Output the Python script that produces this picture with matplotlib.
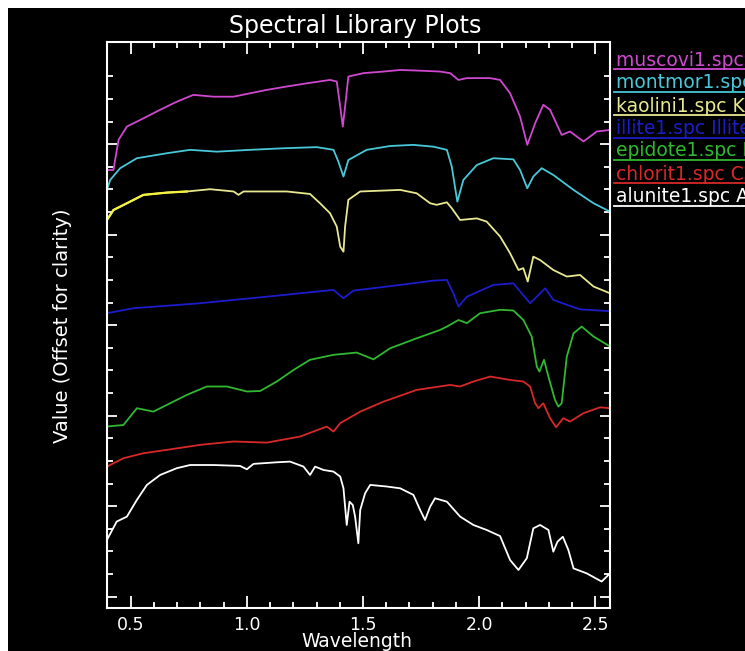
import matplotlib
matplotlib.use("Agg")
import matplotlib.pyplot as plt
from matplotlib.patches import Rectangle
from matplotlib.lines import Line2D
from matplotlib.ticker import FixedLocator, MultipleLocator

# Spectra (wavelength in um, value already offset)
musc_wl = [0.398, 0.426, 0.448, 0.484, 0.541, 0.627, 0.699, 0.770, 0.857, 0.943, 1.014, 1.086,
           1.172, 1.258, 1.358, 1.387, 1.402, 1.413, 1.423, 1.437, 1.502, 1.588, 1.660, 1.746,
           1.832, 1.875, 1.911, 1.947, 2.047, 2.090, 2.133, 2.176, 2.207, 2.241, 2.276, 2.305,
           2.355, 2.391, 2.449, 2.506, 2.563]
musc_val = [1.936, 1.936, 2.069, 2.128, 2.157, 2.202, 2.238, 2.268, 2.260, 2.260, 2.275, 2.290,
            2.305, 2.319, 2.334, 2.327, 2.216, 2.128, 2.216, 2.349, 2.364, 2.371, 2.378, 2.375,
            2.371, 2.364, 2.334, 2.342, 2.342, 2.334, 2.275, 2.172, 2.047, 2.143, 2.224, 2.202,
            2.091, 2.106, 2.062, 2.106, 2.113]

mont_wl = [0.398, 0.412, 0.455, 0.527, 0.656, 0.756, 0.871, 1.014, 1.158, 1.301, 1.373, 1.394,
           1.416, 1.437, 1.516, 1.617, 1.717, 1.803, 1.861, 1.882, 1.906, 1.932, 1.990, 2.061,
           2.147, 2.176, 2.207, 2.233, 2.269, 2.319, 2.406, 2.492, 2.563]
mont_val = [1.848, 1.892, 1.944, 1.988, 2.010, 2.025, 2.017, 2.025, 2.032, 2.037, 2.025, 1.973,
            1.907, 1.980, 2.025, 2.042, 2.047, 2.039, 2.025, 1.951, 1.796, 1.892, 1.958, 1.988,
            1.983, 1.936, 1.855, 1.907, 1.944, 1.914, 1.848, 1.789, 1.752]

kaol_wl = [0.398, 0.426, 0.484, 0.555, 0.656, 0.742, 0.842, 0.943, 0.964, 0.986, 1.086, 1.172,
           1.272, 1.315, 1.358, 1.387, 1.402, 1.416, 1.423, 1.437, 1.488, 1.588, 1.660, 1.731,
           1.789, 1.817, 1.861, 1.882, 1.918, 1.990, 2.032, 2.090, 2.133, 2.169, 2.190, 2.209,
           2.233, 2.262, 2.319, 2.377, 2.434, 2.492, 2.563]
kaol_val = [1.715, 1.759, 1.789, 1.826, 1.836, 1.841, 1.851, 1.841, 1.826, 1.841, 1.841, 1.841,
            1.830, 1.789, 1.745, 1.686, 1.597, 1.575, 1.686, 1.804, 1.841, 1.845, 1.848, 1.833,
            1.789, 1.782, 1.793, 1.767, 1.715, 1.722, 1.708, 1.642, 1.568, 1.494, 1.502, 1.443,
            1.553, 1.538, 1.494, 1.465, 1.472, 1.421, 1.391]

illi_wl = [0.398, 0.512, 0.799, 1.086, 1.373, 1.416, 1.459, 1.660, 1.803, 1.861, 1.889, 1.911,
           1.947, 2.061, 2.147, 2.183, 2.219, 2.248, 2.284, 2.319, 2.377, 2.434, 2.563]
illi_val = [1.303, 1.325, 1.347, 1.376, 1.406, 1.369, 1.403, 1.428, 1.447, 1.450, 1.391, 1.332,
            1.376, 1.428, 1.435, 1.391, 1.347, 1.376, 1.413, 1.362, 1.340, 1.320, 1.312]

epid_wl = [0.398, 0.469, 0.527, 0.598, 0.670, 0.742, 0.828, 0.914, 1.000, 1.057, 1.129, 1.201,
           1.272, 1.373, 1.473, 1.545, 1.617, 1.731, 1.832, 1.861, 1.911, 1.947, 2.004, 2.090,
           2.147, 2.190, 2.226, 2.248, 2.259, 2.279, 2.298, 2.326, 2.341, 2.355, 2.377, 2.406,
           2.441, 2.492, 2.563]
epid_val = [0.802, 0.809, 0.883, 0.868, 0.905, 0.942, 0.979, 0.979, 0.957, 0.959, 1.001, 1.052,
            1.097, 1.119, 1.129, 1.099, 1.148, 1.192, 1.229, 1.244, 1.273, 1.259, 1.303, 1.318,
            1.315, 1.273, 1.200, 1.067, 1.045, 1.097, 1.023, 0.920, 0.890, 0.905, 1.111, 1.214,
            1.244, 1.200, 1.156]

chlo_wl = [0.398, 0.469, 0.555, 0.656, 0.799, 0.943, 1.086, 1.230, 1.344, 1.373, 1.402, 1.488,
           1.588, 1.731, 1.875, 1.918, 1.975, 2.047, 2.133, 2.190, 2.219, 2.241, 2.255, 2.276,
           2.305, 2.331, 2.362, 2.391, 2.449, 2.520, 2.563]
chlo_val = [0.625, 0.662, 0.684, 0.699, 0.721, 0.736, 0.731, 0.758, 0.802, 0.780, 0.817, 0.868,
            0.912, 0.964, 0.986, 0.979, 1.001, 1.023, 1.008, 1.001, 0.979, 0.905, 0.883, 0.905,
            0.839, 0.799, 0.839, 0.824, 0.861, 0.887, 0.883]

alun_wl = [0.398, 0.440, 0.484, 0.527, 0.570, 0.627, 0.699, 0.756, 0.857, 0.971, 1.000, 1.029,
           1.129, 1.186, 1.244, 1.272, 1.294, 1.330, 1.373, 1.402, 1.416, 1.430, 1.442, 1.456,
           1.466, 1.480, 1.488, 1.509, 1.531, 1.602, 1.660, 1.717, 1.746, 1.767, 1.789, 1.810,
           1.861, 1.918, 1.975, 2.032, 2.090, 2.133, 2.169, 2.205, 2.233, 2.262, 2.298, 2.319,
           2.337, 2.360, 2.384, 2.406, 2.463, 2.527, 2.563]
alun_val = [0.301, 0.382, 0.404, 0.478, 0.544, 0.588, 0.618, 0.632, 0.632, 0.628, 0.613, 0.637,
            0.644, 0.647, 0.625, 0.588, 0.625, 0.610, 0.603, 0.581, 0.529, 0.367, 0.470, 0.455,
            0.404, 0.286, 0.433, 0.507, 0.544, 0.537, 0.529, 0.500, 0.433, 0.389, 0.448, 0.485,
            0.470, 0.404, 0.367, 0.345, 0.318, 0.212, 0.168, 0.220, 0.352, 0.367, 0.345, 0.249,
            0.293, 0.315, 0.256, 0.175, 0.153, 0.117, 0.153]

labels = ["muscovi1.spc Muscovite", "montmor1.spc Montmorillonite", "kaolini1.spc Kaolinite",
          "illite1.spc Illite", "epidote1.spc Epidote", "chlorit1.spc Chlorite",
          "alunite1.spc Alunite"]
colors = ["#d048d0", "#48c8d8", "#e8e890", "#1c1ccc", "#30b830", "#d82828", "#ffffff"]

series = [(musc_wl, musc_val), (mont_wl, mont_val), (kaol_wl, kaol_val), (illi_wl, illi_val),
          (epid_wl, epid_val), (chlo_wl, chlo_val), (alun_wl, alun_val)]

fig = plt.figure(figsize=(7.45, 6.51), dpi=100, facecolor="black")
# scanner margins in the reference
fig.patches.append(Rectangle((0, 1 - 8 / 651), 1, 8 / 651, transform=fig.transFigure,
                             facecolor="white", edgecolor="none"))
fig.patches.append(Rectangle((0, 0), 8 / 745, 1, transform=fig.transFigure,
                             facecolor="white", edgecolor="none"))

ax = fig.add_axes([106.7 / 745, 1 - 608 / 651, (610 - 106.7) / 745, (608 - 41.7) / 651])
ax.set_facecolor("black")

for (wl, val), c in zip(series, colors):
    ax.plot(wl, val, color=c, lw=1.3)
# bright yellow start of the kaolinite curve
ax.plot(kaol_wl[:6], kaol_val[:6], color="#f4f43c", lw=1.6)

ax.set_xlim(0.397, 2.563)
ax.set_ylim(0, 2.503)

for s in ax.spines.values():
    s.set_color("white")
    s.set_linewidth(1.5)

ax.xaxis.set_major_locator(MultipleLocator(0.5))
ax.xaxis.set_minor_locator(MultipleLocator(0.1))
ax.yaxis.set_major_locator(FixedLocator([0.05, 0.45, 0.85, 1.25, 1.65, 2.05]))
ax.yaxis.set_minor_locator(FixedLocator([0.05 + 0.1 * k for k in range(24)]))
ax.tick_params(axis="x", which="both", direction="in", top=True, bottom=True, colors="white",
               width=1.3, labelsize=12.5, pad=5.5)
ax.tick_params(axis="x", which="major", length=8.5)
ax.tick_params(axis="x", which="minor", length=4)
ax.tick_params(axis="y", which="both", direction="in", left=True, right=True, colors="white",
               width=1.3, labelleft=False)
ax.tick_params(axis="y", which="major", length=7)
ax.tick_params(axis="y", which="minor", length=4.5)
ax.set_xticklabels([f"{t:.1f}" for t in ax.get_xticks()])

fig.text(355 / 745, 1 - 33 / 651, "Spectral Library Plots", color="white", fontsize=17,
         ha="center", va="baseline")
fig.text(357 / 745, 1 - 647 / 651, "Wavelength", color="white", fontsize=13.5,
         ha="center", va="baseline")
fig.text(62 / 745, 1 - 326 / 651, "Value (Offset for clarity)", color="white", fontsize=14,
         ha="center", va="center", rotation=90)

# legend entries: coloured text with an underline, cut off by the image edge as in the scan
line_y = [69, 92, 115, 138, 160, 183, 206]
for lab, c, yy in zip(labels, colors, line_y):
    fig.text(616 / 745, 1 - (yy - 3.5) / 651, lab, color=c, fontsize=13.5,
             ha="left", va="baseline")
    fig.add_artist(Line2D([614 / 745, 1.0], [1 - yy / 651] * 2, transform=fig.transFigure,
                          color=c, lw=1.3))

fig.savefig("out.png", dpi=100, facecolor="black")
